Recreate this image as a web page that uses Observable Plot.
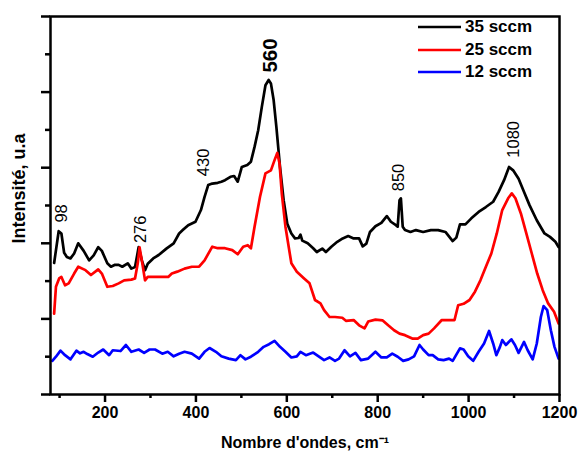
<!DOCTYPE html>
<html>
<head>
<meta charset="utf-8">
<script src="https://cdn.jsdelivr.net/npm/d3@7"></script>
<script src="https://cdn.jsdelivr.net/npm/@observablehq/plot@0.6"></script>
<style>
  html, body { margin: 0; padding: 0; background: #fff; }
  #wrap { position: relative; width: 579px; height: 457px; font-family: "Liberation Sans", Arial, sans-serif; }
  #legend { position: absolute; left: 418px; top: 16px; }
  .row { height: 22.5px; display: flex; align-items: center; }
  .row svg { display: block; }
  .row span { font-weight: bold; font-size: 17px; margin-left: 4px; color: #000; }
</style>
</head>
<body>
<div id="wrap"><div id="legend"></div></div>
<script>
// ---- Data ----
const seriesNames = ["35 sccm", "25 sccm", "12 sccm"];
const seriesColors = ["#000000", "#ff0000", "#0000ff"];

const wave35 = [88,98,104,110,116,124,132,141,153,165,175,185,193,205,213,222,230,238,250,258,266,274,281,288,294,306,318,335,351,363,371,383,399,411,419,427,436,448,456,464,476,484,492,501,513,521,529,537,545,553,560,565,571,577,585,593,601,610,618,626,630,634,646,658,666,678,686,698,711,723,735,747,759,767,775,783,795,808,820,829,840,844,848,851,855,860,872,884,900,917,933,949,965,973,981,993,1006,1022,1038,1054,1066,1078,1089,1098,1110,1122,1134,1150,1167,1179,1191,1198];
const int35 = [3.48,4.32,4.26,3.75,3.64,3.6,3.73,4.0,3.8,3.55,3.68,3.9,3.8,3.47,3.38,3.43,3.43,3.38,3.47,3.33,3.37,3.9,3.55,3.29,3.46,3.6,3.69,3.86,4.0,4.26,4.35,4.48,4.57,4.88,5.23,5.54,5.58,5.6,5.63,5.67,5.76,5.78,5.63,6.02,6.07,6.16,6.55,6.99,7.61,8.18,8.32,8.23,7.79,7.08,6.02,5.14,4.52,4.26,4.13,4.14,4.23,4.07,4.0,3.87,3.77,3.86,3.77,3.91,4.04,4.13,4.19,4.13,4.13,3.92,3.99,4.3,4.45,4.54,4.72,4.57,4.48,4.44,5.14,5.19,4.44,4.35,4.3,4.35,4.3,4.35,4.35,4.3,4.06,4.15,4.5,4.5,4.66,4.83,4.96,5.1,5.36,5.67,6.02,5.93,5.71,5.36,5.01,4.61,4.26,4.17,4.04,3.9];

const wave25 = [88,92,99,104,112,120,132,141,157,169,185,193,205,217,230,242,258,266,272,276,282,288,294,310,339,347,359,375,391,407,419,436,448,464,480,492,504,514,521,529,541,553,565,573,579,584,589,597,610,622,638,650,662,674,682,694,706,722,730,747,759,771,779,795,811,823,836,848,860,876,888,900,912,924,941,957,969,977,989,1002,1014,1026,1038,1050,1062,1074,1087,1095,1103,1115,1127,1139,1151,1163,1175,1188,1198];
const int25 = [2.14,2.85,3.07,3.11,2.89,2.94,3.2,3.38,3.29,3.16,3.31,3.2,2.85,2.87,2.94,3.02,3.04,3.07,3.47,3.89,3.47,3.02,3.11,3.11,3.11,3.2,3.25,3.33,3.38,3.38,3.55,3.91,3.87,3.87,3.82,3.71,3.91,3.95,3.87,4.44,5.23,5.85,5.93,6.2,6.39,6.11,5.31,4.44,3.47,3.25,3.07,2.94,2.5,2.41,2.23,2.05,2.05,2.03,1.95,1.97,1.83,1.75,1.93,1.98,1.96,1.83,1.70,1.61,1.57,1.48,1.48,1.57,1.61,1.75,1.97,1.97,1.97,2.36,2.4,2.5,2.72,3.02,3.38,3.73,4.26,4.88,5.19,5.32,5.19,4.79,4.26,3.73,3.2,2.76,2.41,2.19,1.88];

const wave12 = [84,92,102,112,124,137,145,153,161,173,185,196,209,217,234,246,258,274,286,298,310,326,338,351,363,375,391,407,419,430,444,456,472,488,498,509,521,537,549,561,573,585,597,610,622,630,642,658,670,682,694,706,715,727,739,751,763,779,795,808,820,832,844,856,868,880,892,900,912,921,933,945,957,965,981,989,999,1010,1022,1034,1045,1054,1061,1069,1074,1082,1094,1102,1110,1122,1130,1141,1150,1159,1165,1173,1181,1189,1198];
const int12 = [0.89,1.0,1.16,1.04,0.93,1.16,1.09,1.13,1.07,1.0,1.11,1.19,1.04,1.17,1.15,1.31,1.13,1.19,1.10,1.19,1.19,1.08,1.13,1.01,1.08,1.13,1.08,0.95,1.13,1.23,1.13,1.01,0.95,0.91,1.04,0.93,1.0,1.13,1.26,1.33,1.42,1.26,1.13,0.98,1.01,1.13,1.04,1.11,1.01,0.91,0.98,0.89,0.95,1.17,1.01,1.10,0.91,0.95,1.13,0.98,0.98,1.08,1.0,0.89,0.93,1.01,1.31,1.19,1.04,1.04,0.93,0.91,0.95,0.89,1.22,1.19,1.01,0.89,1.13,1.35,1.68,1.35,1.04,1.26,1.44,1.31,1.46,1.31,1.1,1.39,1.17,0.93,1.35,2.05,2.34,2.23,1.70,1.26,0.95];

const peakText = ["98", "276", "430", "560", "850", "1080"];
const peakX = [104, 278, 418, 565, 847, 1099];
const peakY = [4.79, 4.37, 6.14, 8.97, 5.74, 6.75];

const xMajorTicks = [200, 400, 600, 800, 1000, 1200];
const xMinorTicks = [100, 300, 500, 700, 900, 1100];
const yMajorTicks = [0, 2, 4, 6, 8, 10];
const yMinorTicks = [1, 3, 5, 7, 9];

// ---- Build table ----
const waves = [wave35, wave25, wave12];
const ints = [int35, int25, int12];
const data = [];
seriesNames.forEach((name, s) => {
  waves[s].forEach((w, i) => data.push({series: name, x: w, y: ints[s][i]}));
});
const peaks = peakText.map((t, i) => ({t, x: peakX[i], y: peakY[i], bold: t === "560"}));

const font = "Liberation Sans, Arial, sans-serif";
const chart = Plot.plot({
  width: 579,
  height: 457,
  marginLeft: 50,
  marginRight: 20,
  marginTop: 16,
  marginBottom: 63,
  style: {fontFamily: font, background: "white", color: "black"},
  x: {domain: [80, 1200]},
  y: {domain: [0, 10]},
  color: {domain: seriesNames, range: seriesColors},
  marks: [
    Plot.line(data, {x: "x", y: "y", z: "series", stroke: "series", strokeWidth: 2.7, strokeLinejoin: "round"}),
    Plot.frame({stroke: "black", strokeWidth: 2.5}),
    Plot.axisX({ticks: xMajorTicks, tickSize: 8, strokeWidth: 2.5, tickPadding: 4, fontSize: 16, fontWeight: "bold", label: null, tickFormat: d => String(d)}),
    Plot.axisX({ticks: xMinorTicks, tickSize: 4, strokeWidth: 2.5, label: null, tickFormat: () => ""}),
    Plot.axisY({ticks: yMajorTicks, tickSize: 9, strokeWidth: 2.5, label: null, tickFormat: () => ""}),
    Plot.axisY({ticks: yMinorTicks, tickSize: 5, strokeWidth: 2.5, label: null, tickFormat: () => ""}),
    Plot.text(peaks.filter(d => !d.bold), {x: "x", y: "y", text: "t", rotate: -90, fontSize: 16.5, fill: "black"}),
    Plot.text(peaks.filter(d => d.bold), {x: "x", y: "y", text: "t", rotate: -90, fontSize: 20.5, fontWeight: "bold", fill: "black"}),
    Plot.text(["Nombre d'ondes, cm⁻¹"], {frameAnchor: "bottom", dy: 53, fontSize: 16, fontWeight: "bold", fill: "black"}),
    Plot.text(["Intensité, u.a"], {frameAnchor: "left", textAnchor: "middle", dx: -31, dy: -17, rotate: -90, fontSize: 18, fontWeight: "bold", fill: "black"})
  ]
});
document.getElementById("wrap").prepend(chart);

// ---- Legend overlay ----
const legend = document.getElementById("legend");
seriesNames.forEach((name, i) => {
  const row = document.createElement("div");
  row.className = "row";
  row.innerHTML = `<svg width="43" height="4"><line x1="0" y1="2" x2="43" y2="2" stroke="${seriesColors[i]}" stroke-width="2.7"/></svg><span>${name}</span>`;
  legend.appendChild(row);
});
</script>
</body>
</html>
